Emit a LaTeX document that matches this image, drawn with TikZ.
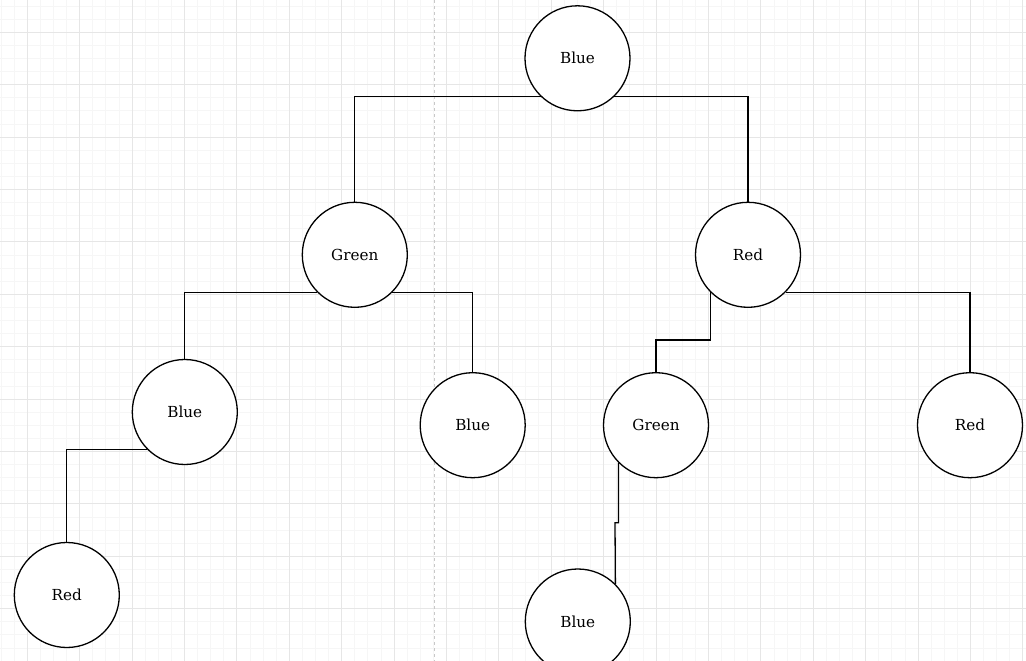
\documentclass[tikz,border=0pt]{standalone}
\usepackage{fontspec}
\setmainfont{DejaVu Serif}
\definecolor{gridminor}{RGB}{246,246,246}
\definecolor{gridmajor}{RGB}{230,230,230}
\definecolor{pagebreak}{RGB}{200,200,200}
\tikzset{
  minorline/.style={draw=gridminor, line width=1pt},
  majorline/.style={draw=gridmajor, line width=1pt},
  pageline/.style={draw=pagebreak, line width=1.3pt, dash pattern=on 3pt off 3pt},
  treenode/.style={circle, draw=black, fill=white, line width=1.3pt, minimum size=105pt, inner sep=0pt, font=\fontsize{15.2}{18}\selectfont},
  link/.style={draw=black, line width=1.3pt}
}
\begin{document}
\begin{tikzpicture}[x=1pt,y=-1pt]
\useasboundingbox (0,0) rectangle (1026,661);
\fill[white] (0,0) rectangle (1026,661);
% grid
\foreach \i in {0,...,78} {\draw[minorline] ({1.1+13.1*\i},0) -- ++(0,661);}
\foreach \i in {0,...,50} {\draw[minorline] (0,{6.1+13.1*\i}) -- ++(1026,0);}
\foreach \i in {0,...,19} {\draw[majorline] ({27.3+52.4*\i},0) -- ++(0,661);}
\foreach \i in {0,...,11} {\draw[majorline] (0,{32.3+52.4*\i}) -- ++(1026,0);}
\draw[pageline] (434.3,0) -- (434.3,661);
% nodes
\node[treenode] (A) at (577.5,58.3) {Blue};
\node[treenode] (B) at (354.8,254.8) {Green};
\node[treenode] (C) at (748,254.8) {Red};
\node[treenode] (D) at (184.8,412) {Blue};
\node[treenode] (E) at (472.7,425.2) {Blue};
\node[treenode] (F) at (656,425.2) {Green};
\node[treenode] (G) at (970,425.2) {Red};
\node[treenode] (H) at (66.8,595) {Red};
\node[treenode] (I) at (577.8,621.5) {Blue};
\coordinate (cf) at (656,340);
\coordinate (fi) at (615,522.7);
% connectors
\draw[link] (A.226) -| (B.north);
\draw[link] (A.314) -| (C.north);
\draw[link] (B.225) -| (D.north);
\draw[link] (B.315) -| (E.north);
\draw[link] (C.315) -| (G.north);
\draw[link] (C.225) |- (cf) -- (F.north);
\draw[link] (D.225) -| (H.north);
\draw[link] (F.225) |- (fi) -- (I.45);
\end{tikzpicture}
\end{document}
